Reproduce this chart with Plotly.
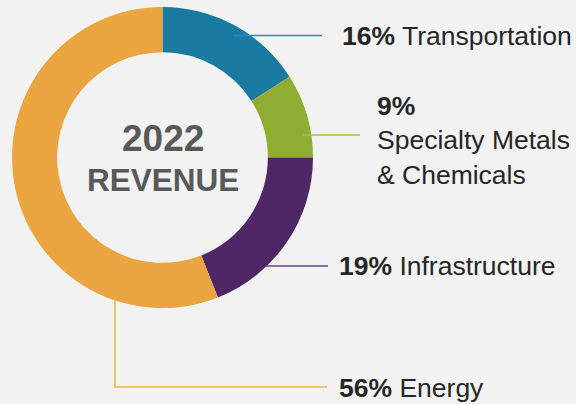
import math
import plotly.graph_objects as go

# ---- data ----
segments = ["Transportation", "Specialty Metals<br>& Chemicals", "Infrastructure", "Energy"]
shares = [16, 9, 19, 56]
slice_colors = ["#1b7aa2", "#8fae31", "#4f2767", "#eaa541"]
line_colors = ["#1a8fd0", "#a9c23f", "#7b3a96", "#f2b63a"]
center_title = "2022"
center_sub = "REVENUE"

W, H = 576, 404
def px(x):
    return x / W
def py(y):
    return 1 - y / H

# ring geometry (pixels)
cx, cy, R = 162.5, 157.5, 150.5
hole = 0.70

fig = go.Figure(go.Pie(
    labels=segments,
    values=shares,
    sort=False,
    direction="clockwise",
    rotation=0,
    hole=hole,
    marker=dict(colors=slice_colors, line=dict(width=0)),
    textinfo="none",
    hoverinfo="label+percent",
    showlegend=False,
    domain=dict(x=[px(cx - R), px(cx + R)], y=[py(cy + R), py(cy - R)]),
))

shapes = []
annotations = []
lw = 1.5

# Transportation
y0 = 35.5
xs = cx + math.sqrt(141**2 - (y0 - cy) ** 2)
shapes.append(dict(type="line", xref="paper", yref="paper", x0=px(xs), x1=px(322), y0=py(y0), y1=py(y0),
                   line=dict(color=line_colors[0], width=lw), layer="above"))
annotations.append(dict(x=px(340), y=py(36.5), text=f"<b>{shares[0]}%</b> {segments[0]}"))

# Specialty Metals
y1 = 135
xs = cx + math.sqrt(142**2 - (y1 - cy) ** 2)
shapes.append(dict(type="line", xref="paper", yref="paper", x0=px(xs), x1=px(360), y0=py(y1), y1=py(y1),
                   line=dict(color=line_colors[1], width=lw), layer="above"))
annotations.append(dict(x=px(375), y=py(140.5), text=f"<b>{shares[1]}%</b><br>{segments[1]}"))

# Infrastructure
y2 = 266
xs = cx + math.sqrt(R**2 - (y2 - cy) ** 2)
shapes.append(dict(type="line", xref="paper", yref="paper", x0=px(xs - 1), x1=px(328), y0=py(y2), y1=py(y2),
                   line=dict(color=line_colors[2], width=lw), layer="above"))
annotations.append(dict(x=px(337), y=py(265.5), text=f"<b>{shares[2]}%</b> {segments[2]}"))

# Energy
xe = 115
ys = cy + math.sqrt(R**2 - (xe - cx) ** 2)
y3 = 387
shapes.append(dict(type="path", xref="paper", yref="paper",
                   path=f"M {px(xe)} {py(ys - 1)} L {px(xe)} {py(y3)} L {px(327)} {py(y3)}",
                   line=dict(color=line_colors[3], width=lw), layer="above"))
annotations.append(dict(x=px(337), y=py(388), text=f"<b>{shares[3]}%</b> {segments[3]}"))

for a in annotations:
    a.update(xref="paper", yref="paper", xanchor="left", yanchor="middle", align="left",
             showarrow=False, font=dict(family="Liberation Sans, Arial, sans-serif", size=26.5, color="#262626"))

annotations.append(dict(x=px(cx), y=py(138.5), xref="paper", yref="paper", showarrow=False,
                        xanchor="center", yanchor="middle", text=f"<b>{center_title}</b>",
                        font=dict(family="Liberation Sans, Arial, sans-serif", size=37, color="#595959")))
annotations.append(dict(x=px(cx), y=py(180), xref="paper", yref="paper", showarrow=False,
                        xanchor="center", yanchor="middle", text=f"<b>{center_sub}</b>",
                        font=dict(family="Liberation Sans, Arial, sans-serif", size=31.5, color="#595959")))

fig.update_layout(
    width=W, height=H,
    margin=dict(l=0, r=0, t=0, b=0),
    paper_bgcolor="#f2f2f2",
    plot_bgcolor="#f2f2f2",
    shapes=shapes,
    annotations=annotations,
)

fig.write_html(
    "out.html",
    config={"displayModeBar": False},
    post_script="document.body.style.margin='0';document.body.style.padding='0';"
                "document.body.style.background='#f2f2f2';document.body.style.overflow='hidden';",
)
